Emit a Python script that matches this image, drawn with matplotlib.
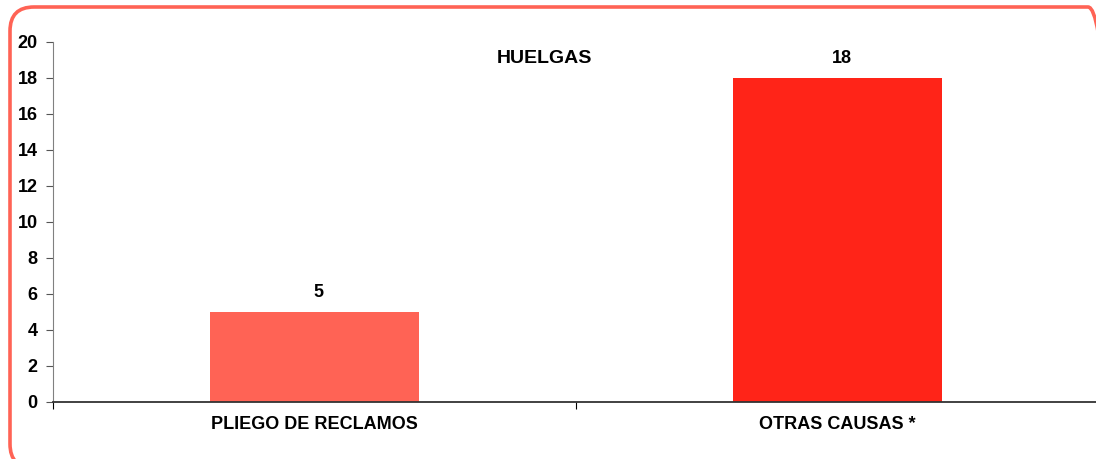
import matplotlib
matplotlib.use("Agg")
import matplotlib.pyplot as plt
from matplotlib.patches import FancyBboxPatch
from matplotlib.transforms import IdentityTransform

categories = ["PLIEGO DE RECLAMOS", "OTRAS CAUSAS *"]
values = [5, 18]
bar_colors = ["#FF6355", "#FF2418"]
yticks = [0, 2, 4, 6, 8, 10, 12, 14, 16, 18, 20]

plt.rcParams['font.family'] = ['Liberation Sans', 'DejaVu Sans']
plt.rcParams['font.weight'] = 'bold'

W, H = 1096, 459
fig = plt.figure(figsize=(W / 100, H / 100), dpi=100)

# rounded border in pixels, partly outside the picture
border = FancyBboxPatch((10, H - 468), 1102, 461,
                        boxstyle="round,pad=0,rounding_size=24",
                        transform=IdentityTransform(), fill=False,
                        edgecolor="#FF6355", linewidth=2.6, zorder=0)
fig.patches.append(border)
fig.text(570 / W, 1 + 5 / H, "2020", ha="center", va="center",
         fontsize=14, fontweight="bold")

ax = fig.add_axes([53 / W, (H - 402) / H, 1046 / W, 360 / H])
ax.patch.set_alpha(0)
x = range(len(categories))
ax.bar(x, values, width=0.4, color=bar_colors, zorder=2)
for i, v in enumerate(values):
    ax.annotate(str(v), (i, v), xytext=(3, 8), textcoords="offset points",
                ha="center", va="bottom", fontsize=13, fontweight="bold")

ax.set_xlim(-0.5, 1.5)
ax.set_ylim(0, 20)
ax.set_yticks(yticks)
ax.set_yticklabels([str(t) for t in yticks], fontsize=13, fontweight="bold")
ax.set_xticks([-0.5, 0.5, 1.5])
ax.set_xticklabels([])
ax.set_xticks(list(x), minor=True)
ax.set_xticklabels(categories, minor=True, fontsize=13, fontweight="bold")
ax.tick_params(axis="x", which="minor", length=0, pad=10)
ax.tick_params(axis="x", which="major", length=5, direction="out", color="black")
ax.tick_params(axis="y", length=5, direction="out", color="#555555", pad=6)

for s in ["top", "right"]:
    ax.spines[s].set_visible(False)
ax.spines["left"].set_color("#808080")
ax.spines["bottom"].set_color("#333333")
ax.spines["bottom"].set_linewidth(1.3)

ax.text(0.4695, 0.955, "HUELGAS", transform=ax.transAxes, ha="center",
        va="center", fontsize=14, fontweight="bold")

fig.savefig("out.png", dpi=100)
